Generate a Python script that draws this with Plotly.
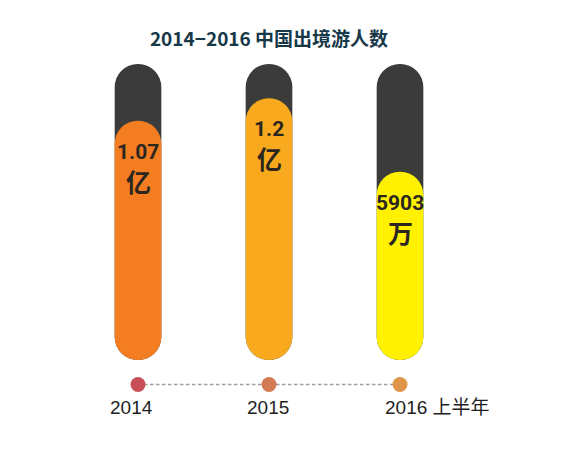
import plotly.graph_objects as go

# --- data ---
years = ["2014", "2015", "2016 上半年"]
value_labels = ["1.07", "1.2", "5903"]
units = ["亿", "亿", "万"]
fill_levels = [80.8, 88.4, 63.6]      # height of coloured fill, full tube = 100
tube_full = [100, 100, 100]

fill_colors = ["#f47d21", "#f9a91d", "#fff100"]
dot_colors = ["#c84e58", "#d37b53", "#e0964a"]
dark = "#3a3b3a"

# page body adds 8px margin, so the figure is a bit smaller than the window
W, H = 572, 457
px_x = 131.0   # px per category step
px_y = 2.96    # px per y unit
x0_px, y0_px = 130, 352   # pixel position of first tube centre / tube bottom

xs = list(range(len(years)))
bar_w = 0.356

fig = go.Figure()

# bars with an explicit base get both ends rounded -> capsules
fig.add_trace(go.Bar(x=xs, y=tube_full, base=[0] * 3, width=bar_w,
                     marker=dict(color=dark, cornerradius="50%", line_width=0),
                     hoverinfo="skip"))
fig.add_trace(go.Bar(x=xs, y=fill_levels, base=[0] * 3, width=bar_w,
                     marker=dict(color=fill_colors, cornerradius="50%", line_width=0),
                     hoverinfo="skip"))

# timeline
timeline_y = -8.3
fig.add_trace(go.Scatter(x=xs, y=[timeline_y] * 3, mode="lines",
                         line=dict(color="#9e9e9e", width=1.5, dash="3.5px,2.5px"),
                         hoverinfo="skip"))
fig.add_trace(go.Scatter(x=xs, y=[timeline_y] * 3, mode="markers",
                         marker=dict(color=dot_colors, size=15, line_width=0), hoverinfo="skip"))

num_font = dict(family="Roboto, Noto Sans CJK SC", size=21, color="#2b2620")
unit_font = dict(family="Noto Sans CJK SC", size=25, color="#2b2620")
for x, f, v, u in zip(xs, fill_levels, value_labels, units):
    fig.add_annotation(x=x, y=f, text=f"<b>{v}</b>", showarrow=False, yanchor="middle",
                       yshift=-31, font=num_font)
    fig.add_annotation(x=x, y=f, text=f"<b>{u}</b>", showarrow=False, yanchor="middle",
                       yshift=-60, font=unit_font)

year_font = dict(family="Liberation Sans, Noto Sans CJK SC", size=19, color="#1e1e1e")
fig.add_annotation(x=0, y=-16.2, text=years[0], showarrow=False, xshift=-7, font=year_font)
fig.add_annotation(x=1, y=-16.2, text=years[1], showarrow=False, xshift=-1, font=year_font)
fig.add_annotation(x=2, y=-16.2, text=years[2], showarrow=False, xanchor="left", xshift=-17,
                   font=year_font)

fig.update_layout(
    title=dict(text="<b>2014−2016 中国出境游人数</b>", x=(269 - 8) / W, xanchor="center",
               y=1 - (39 - 8) / H, yanchor="middle",
               font=dict(family="Noto Sans CJK SC", size=19, color="#163848")),
    width=W, height=H, margin=dict(l=0, r=0, t=0, b=0),
    barmode="overlay", showlegend=False,
    paper_bgcolor="white", plot_bgcolor="white",
    xaxis=dict(range=[-x0_px / px_x, (W - x0_px) / px_x], visible=False, fixedrange=True),
    # tube top (100) sits 296px above the tube bottom
    yaxis=dict(range=[-(H - y0_px) / px_y, 100 + (y0_px - 296) / px_y],
               visible=False, fixedrange=True),
)

fig.write_html("out.html")
